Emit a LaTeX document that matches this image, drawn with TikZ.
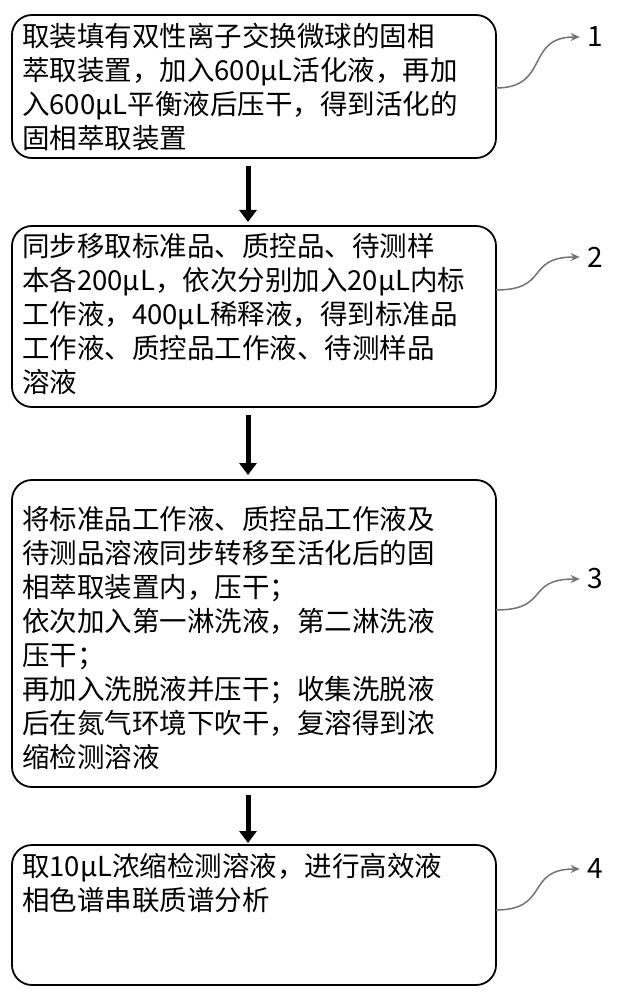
\documentclass[tikz,border=0pt]{standalone}
\usepackage{fontspec}
\setmainfont{Noto Sans CJK SC}
\usetikzlibrary{arrows.meta,positioning}
\begin{document}
\begin{tikzpicture}[x=1pt,y=-1pt,
    stepbox/.style={draw, line width=1.8pt, rounded corners=20pt},
    steptext/.style={anchor=north west, align=left, font=\fontsize{27.5}{34}\selectfont, inner sep=0pt},
    flow/.style={line width=5pt, -{Triangle[length=12pt,width=17pt]}},
    tag/.style={font=\fontsize{28}{28}\selectfont},
    wave/.style={draw=black!55, line width=1.5pt, -{Stealth[length=9pt,width=8pt]}}
]
    \useasboundingbox (0,0) rectangle (616,1000);
    % Steps
    \draw[stepbox] (12,15) rectangle (496,158);
    \coordinate (b1s) at (254,158);
    \node[steptext] (t1) at (22,23) {取装填有双性离子交换微球的固相\\萃取装置，加入600μL活化液，再加\\入600μL平衡液后压干，得到活化的\\固相萃取装置};
    \draw[stepbox] (12,226) rectangle (496,407);
    \coordinate (b2s) at (254,407);
    \node[steptext] (t2) at (22,233) {同步移取标准品、质控品、待测样\\本各200μL，依次分别加入20μL内标\\工作液，400μL稀释液，得到标准品\\工作液、质控品工作液、待测样品\\溶液};
    \draw[stepbox] (12,480) rectangle (496,787);
    \coordinate (b3s) at (254,787);
    \node[steptext] (t3) at (22,506) {将标准品工作液、质控品工作液及\\待测品溶液同步转移至活化后的固\\相萃取装置内，压干；\\依次加入第一淋洗液，第二淋洗液\\压干；\\再加入洗脱液并压干；收集洗脱液\\后在氮气环境下吹干，复溶得到浓\\缩检测溶液};
    \draw[stepbox] (12,845) rectangle (496,985);
    \node[steptext] (t4) at (22,853) {取10μL浓缩检测溶液，进行高效液\\相色谱串联质谱分析};
    % Arrows
    \draw[flow] (b1s) ++(-6,8) -- ++(0,56);
    \draw[flow] (b2s) ++(-6,8) -- ++(0,60);
    \draw[flow] (b3s) ++(-6,8) -- ++(0,48);
    % Labels
    \foreach \n/\y/\ly in {1/88/37, 2/290/257, 3/610/579, 4/910/869} {
        \node[tag] (l\n) at (595,\ly) {\n};
        \coordinate (s\n) at (496,\y);
        \draw[wave] (s\n) .. controls (550,\y) and (525,\ly) .. ([xshift=-4pt]l\n.west);
    }
\end{tikzpicture}
\end{document}
